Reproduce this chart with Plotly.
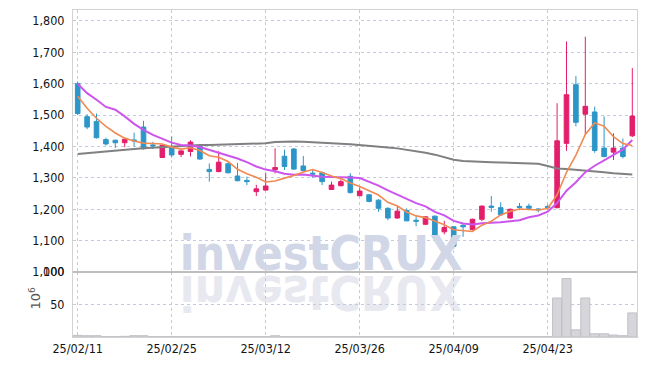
import plotly.graph_objects as go

dates = [
    "25/02/11", "25/02/12", "25/02/13", "25/02/14", "25/02/17", "25/02/18", "25/02/19", "25/02/20", "25/02/21", "25/02/24",
    "25/02/25", "25/02/26", "25/02/27", "25/02/28", "25/03/04", "25/03/05", "25/03/06", "25/03/07", "25/03/10", "25/03/11",
    "25/03/12", "25/03/13", "25/03/14", "25/03/17", "25/03/18", "25/03/19", "25/03/20", "25/03/21", "25/03/24", "25/03/25",
    "25/03/26", "25/03/27", "25/03/28", "25/03/31", "25/04/01", "25/04/02", "25/04/03", "25/04/04", "25/04/07", "25/04/08",
    "25/04/09", "25/04/10", "25/04/11", "25/04/14", "25/04/15", "25/04/16", "25/04/17", "25/04/18", "25/04/21", "25/04/22",
    "25/04/23", "25/04/24", "25/04/25", "25/04/28", "25/04/29", "25/04/30", "25/05/02", "25/05/07", "25/05/08", "25/05/09",
]

opens = [1600, 1495, 1480, 1422, 1420, 1412, 1421, 1462, 1405, 1365,
         1400, 1375, 1384, 1403, 1327, 1320, 1345, 1306, 1292, 1256,
         1261, 1326, 1369, 1392, 1338, 1315, 1316, 1263, 1275, 1305,
         1243, 1246, 1229, 1203, 1172, 1196, 1165, 1152, 1178, 1128,
         1144, 1149, 1135, 1168, 1210, 1205, 1172, 1209, 1210, 1201,
         1209, 1205, 1410, 1597, 1503, 1510, 1395, 1382, 1395, 1434]
highs = [1607, 1503, 1505, 1428, 1422, 1425, 1444, 1482, 1415, 1405,
         1432, 1388, 1420, 1408, 1346, 1385, 1349, 1348, 1304, 1278,
         1315, 1394, 1390, 1395, 1370, 1325, 1320, 1288, 1295, 1315,
         1270, 1248, 1232, 1206, 1208, 1203, 1176, 1178, 1180, 1163,
         1146, 1152, 1170, 1212, 1242, 1222, 1202, 1220, 1218, 1203,
         1215, 1538, 1735, 1625, 1750, 1527, 1496, 1442, 1425, 1650]
lows = [1500, 1455, 1425, 1403, 1395, 1398, 1400, 1390, 1392, 1363,
        1365, 1366, 1368, 1357, 1288, 1318, 1315, 1289, 1277, 1242,
        1260, 1314, 1325, 1325, 1321, 1300, 1277, 1262, 1273, 1250,
        1242, 1222, 1192, 1165, 1170, 1162, 1146, 1150, 1099, 1120,
        1075, 1112, 1133, 1162, 1192, 1180, 1170, 1197, 1197, 1190,
        1200, 1203, 1386, 1464, 1437, 1380, 1365, 1357, 1362, 1430]
closes = [1505, 1462, 1428, 1408, 1412, 1423, 1418, 1393, 1402, 1404,
          1373, 1386, 1414, 1360, 1320, 1350, 1316, 1291, 1288, 1265,
          1274, 1333, 1336, 1328, 1323, 1312, 1288, 1277, 1288, 1253,
          1258, 1225, 1203, 1172, 1194, 1163, 1162, 1176, 1110, 1142,
          1082, 1144, 1168, 1210, 1206, 1182, 1200, 1206, 1203, 1198,
          1205, 1418, 1565, 1477, 1528, 1387, 1368, 1395, 1368, 1497]

# volume in millions of shares
volumes = [2.5, 2, 2, 0.5, 0.5, 1, 2, 2, 0.5, 0.5,
           0.5, 0.5, 0.5, 0.5, 0.5, 0.5, 0.5, 0.5, 0.5, 0.5,
           0.5, 2, 0.5, 0.5, 0.5, 0.5, 0.5, 0.5, 0.5, 0.5,
           0.5, 0.5, 0.5, 0.5, 0.5, 0.5, 0.5, 0.5, 0.5, 0.5,
           0.5, 0.5, 0.5, 0.5, 0.5, 0.5, 0.5, 0.5, 0.5, 0.5,
           0.5, 60, 90, 11, 60, 5, 5, 3, 2, 37]

ma5_head = [1560, 1522, 1490, 1464]
ma10_head = [1599, 1570, 1549, 1526, 1517, 1496, 1472, 1453, 1437]
ma60 = [1376, 1379, 1382, 1385, 1388, 1390, 1392, 1394, 1396, 1398,
        1401, 1403, 1404, 1405, 1405, 1406, 1406, 1406, 1407, 1408,
        1410, 1414, 1416, 1416, 1415, 1414, 1413, 1411, 1409, 1407,
        1405, 1403, 1400, 1397, 1394, 1390, 1386, 1380, 1374, 1366,
        1358, 1354, 1352, 1351, 1350, 1349, 1348, 1347, 1346, 1345,
        1338, 1330, 1328, 1326, 1324, 1321, 1318, 1315, 1313, 1311]

price_ticks = [1000, 1100, 1200, 1300, 1400, 1500, 1600, 1700, 1800]
volume_ticks = [50, 100]
watermark = "investCRUX"

n = len(dates)
xs = list(range(n))


def rolling(vals, w, head):
    out = list(head)
    for i in range(len(head), len(vals)):
        out.append(sum(vals[i - w + 1:i + 1]) / w)
    return out


ma5 = rolling(closes, 5, ma5_head)
ma10 = rolling(closes, 10, ma10_head)

RED = "#e31e6b"
BLUE = "#2d96c8"
GRID = "#c3cadf"
LINE = "#d2d2d2"
TICKFONT = dict(family="DejaVu Sans Condensed, sans-serif", size=12.5, color="#141414")
WM_FONT = "DejaVu Sans Condensed, sans-serif"

fig = go.Figure()

# watermark (drawn first so it sits behind candles)
wm_x = 25.9
wm_y = 1044
fig.add_trace(go.Scatter(x=[wm_x], y=[wm_y], mode="text", text=[watermark],
                         textposition="middle center", cliponaxis=False, hoverinfo="skip",
                         textfont=dict(family=WM_FONT, size=48, weight="bold", color="#d1d7e7"),
                         showlegend=False, xaxis="x", yaxis="y"))
fig.add_trace(go.Scatter(x=[wm_x], y=[wm_y], mode="text", text=[watermark],
                         textposition="middle center", cliponaxis=False, hoverinfo="skip",
                         textfont=dict(family=WM_FONT, size=48, weight="bold", color="#e8e9f0"),
                         showlegend=False, xaxis="x", yaxis="y"))

fig.add_trace(go.Candlestick(
    x=xs, open=opens, high=highs, low=lows, close=closes,
    increasing=dict(line=dict(color=RED, width=1), fillcolor=RED),
    decreasing=dict(line=dict(color=BLUE, width=1), fillcolor=BLUE),
    whiskerwidth=0, showlegend=False, xaxis="x", yaxis="y"))

fig.add_trace(go.Scatter(x=xs, y=ma60, mode="lines", line=dict(color="#808080", width=2),
                         showlegend=False, xaxis="x", yaxis="y"))
fig.add_trace(go.Scatter(x=xs, y=ma10, mode="lines", line=dict(color="#cc55ee", width=2),
                         showlegend=False, xaxis="x", yaxis="y"))
fig.add_trace(go.Scatter(x=xs, y=ma5, mode="lines", line=dict(color="#f08a52", width=1.6),
                         showlegend=False, xaxis="x", yaxis="y"))

fig.add_trace(go.Bar(x=xs, y=volumes, marker=dict(color="#d6d6da", line=dict(color="#bfbfc6", width=1)),
                     showlegend=False, xaxis="x2", yaxis="y2"))

split = 65 / 327

common_x = dict(range=[-0.5, 59.5], tickvals=xs[::10], ticktext=dates[::10],
                showgrid=True, gridcolor=GRID, griddash="dot", gridwidth=1,
                showline=True, mirror=True, linecolor=LINE, linewidth=1,
                zeroline=False, ticks="", fixedrange=True, automargin=False)

fig.update_layout(
    width=647, height=366,
    margin=dict(l=73, r=10, t=10, b=29, autoexpand=False),
    paper_bgcolor="white", plot_bgcolor="rgba(0,0,0,0)",
    showlegend=False,
    bargap=0.04,
    xaxis=dict(common_x, domain=[0, 1], anchor="y", showticklabels=False,
               rangeslider=dict(visible=False)),
    yaxis=dict(domain=[split, 1], range=[1000, 1835], tickvals=price_ticks, tickformat=",",
               showgrid=True, gridcolor=GRID, griddash="dot", showline=True, mirror=True,
               linecolor=LINE, zeroline=False, ticks="", tickfont=TICKFONT, ticklabelstandoff=5,
               automargin=False, fixedrange=True),
    xaxis2=dict(common_x, domain=[0, 1], anchor="y2", showticklabels=True, tickfont=TICKFONT,
                matches="x"),
    yaxis2=dict(domain=[0, split], range=[0, 100], tickvals=volume_ticks,
                showgrid=True, gridcolor=GRID, griddash="dot", showline=True, mirror=True,
                linecolor=LINE, zeroline=False, ticks="", tickfont=TICKFONT, ticklabelstandoff=5,
                automargin=False, fixedrange=True),
    annotations=[dict(text="10<sup>6</sup>", xref="paper", yref="paper", x=-0.068, y=split / 2 + 0.02,
                      xanchor="center", yanchor="middle", textangle=-90, showarrow=False,
                      font=dict(family="DejaVu Sans, sans-serif", size=13, color="#555555"))],
    shapes=[dict(type="line", xref="paper", yref="paper", x0=0, x1=1, y0=split, y1=split,
                 line=dict(color="#a8a8ae", width=1))],
)

post_js = """
document.body.style.margin = '0';
document.body.style.padding = '0';
var gd = document.getElementById('{plot_id}');
function flipWM(){
  var found = [];
  gd.querySelectorAll('g.textpoint text').forEach(function(e){
    if (e.textContent === 'investCRUX') { found.push(e); }
  });
  if (found.length >= 2) {
    var e = found[1];
    var y = parseFloat(e.getAttribute('y'));
    e.setAttribute('transform', 'translate(0,' + (2 * y + 6) + ') scale(1,-1)');
  }
}
flipWM();
gd.on('plotly_afterplot', flipWM);
"""

fig.write_html("out.html", post_script=post_js, config={"displayModeBar": False})
